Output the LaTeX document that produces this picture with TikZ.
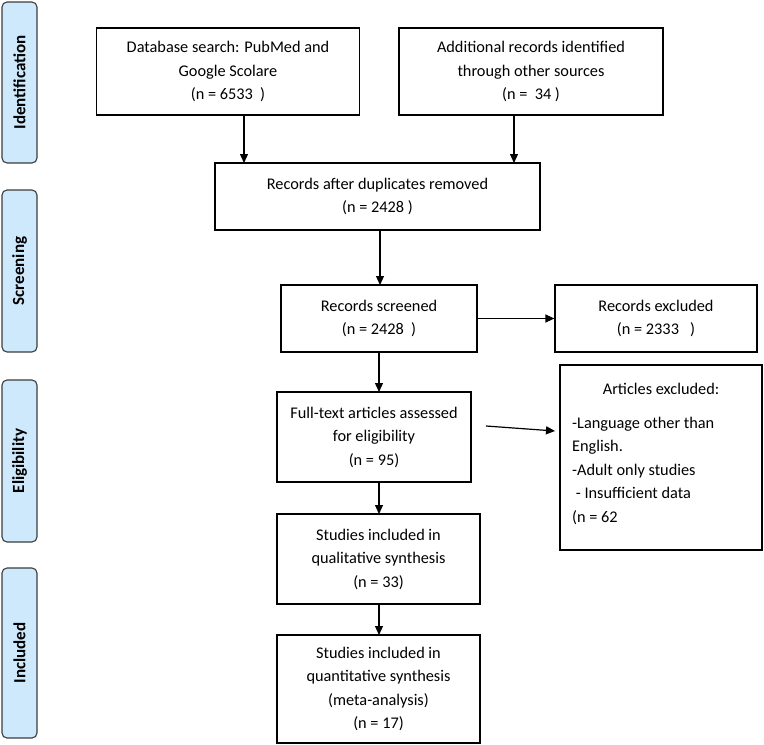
\documentclass[tikz,border=0pt]{standalone}
\usepackage{fontspec}
\setmainfont{Carlito}
\usetikzlibrary{arrows.meta}
\definecolor{phasefill}{RGB}{206,232,252}
\definecolor{phaseline}{RGB}{60,60,60}
\tikzset{
  box/.style={draw=black, line width=1.2pt, align=center, inner sep=0pt,
    font=\fontsize{16.3}{23.5}\selectfont},
  txt/.style={inner sep=0pt, font=\fontsize{16.3}{23.5}\selectfont},
  phasebox/.style={draw=phaseline, fill=phasefill, rounded corners=5pt, line width=1.1pt,
    font=\fontsize{17}{20}\selectfont\bfseries, rotate=90, minimum height=35pt, inner sep=0pt},
  arr/.style={-{Triangle[length=9pt,width=8pt]}, line width=1.2pt}
}
\begin{document}
\begin{tikzpicture}[x=1pt,y=-1pt]
\useasboundingbox (0,0) rectangle (764,745);
% phase labels
\node[phasebox, minimum width=161pt] (pid) at (19.5,82.5) {Identification};
\node[phasebox, minimum width=162pt] (psc) at (19.5,271) {Screening};
\node[phasebox, minimum width=162pt] (pel) at (19.5,461) {Eligibility};
\node[phasebox, minimum width=170pt] (pin) at (19.5,653) {Included};
% boxes
\node[box, minimum width=263pt, minimum height=87pt] (db) at (228,71.5)
  {Database search: PubMed and\\Google Scolare\\(n = 6533~~)};
\node[box, minimum width=264pt, minimum height=87pt] (add) at (531,71.5)
  {Additional records identified\\through other sources\\(n =~ 34 )};
\node[box, minimum width=325pt, minimum height=67pt] (dup) at (377.5,196.5)
  {Records after duplicates removed\\(n = 2428 )};
\node[box, minimum width=196pt, minimum height=67pt] (scr) at (379,318.5)
  {Records screened\\(n = 2428~~)};
\node[box, minimum width=202pt, minimum height=67pt] (exc) at (656,318.5)
  {Records excluded\\(n = 2333~~~)};
\node[box, minimum width=194pt, minimum height=90pt] (ft) at (374,437)
  {Full-text articles assessed\\for eligibility\\(n = 95)};
\node[box, minimum width=202pt, minimum height=185pt] (ae) at (661,457.5) {};
\node[txt, anchor=base] (aeh) at (661,394) {Articles excluded:};
\node[txt, anchor=base west, align=left] (ael) at (572,522)
  {-Language other than\\English.\\-Adult only studies\\~- Insufficient data\\(n = 62};
\node[box, minimum width=203pt, minimum height=90pt] (ql) at (378.5,559)
  {Studies included in\\qualitative synthesis\\(n = 33)};
\node[box, minimum width=203pt, minimum height=108pt] (qn) at (378.5,689)
  {Studies included in\\quantitative synthesis\\(meta-analysis)\\(n = 17)};
% connectors
\coordinate (a1) at (244,115);
\coordinate (a1e) at (244,163);
\coordinate (a2) at (514,115);
\coordinate (a2e) at (514,163);
\draw[arr] (a1) -- (a1e);
\draw[arr] (a2) -- (a2e);
\coordinate (a3) at (380,230);
\coordinate (a3e) at (380,285);
\draw[arr] (a3) -- (a3e);
\draw[arr] (scr.east) -- (exc.west);
\coordinate (a4) at (379,352);
\coordinate (a4e) at (379,392);
\draw[arr] (a4) -- (a4e);
\coordinate (f1) at (486,426);
\coordinate (f2) at (555,431);
\draw[arr] (f1) -- (f2);
\coordinate (a5) at (379,482);
\coordinate (a5e) at (379,514);
\draw[arr] (a5) -- (a5e);
\coordinate (a6) at (379,604);
\coordinate (a6e) at (379,635);
\draw[arr] (a6) -- (a6e);
\end{tikzpicture}
\end{document}
